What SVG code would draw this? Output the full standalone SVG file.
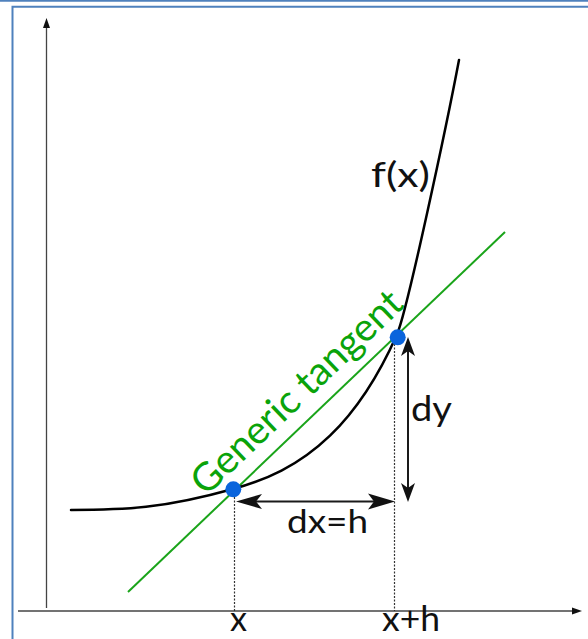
<svg xmlns="http://www.w3.org/2000/svg" width="588" height="639" viewBox="0 0 588 639">
<style>
.lbl{font-family:Lato,"Open Sans","Liberation Sans",sans-serif;fill:#111;}
.axis{stroke:#444;stroke-width:1.3;fill:none;}
.dot{stroke:#333;stroke-width:1.2;stroke-dasharray:2 1.5;fill:none;}
.dim{stroke:#1a1a1a;stroke-width:2;fill:none;}
.head{fill:#111;stroke:none;}
.pt{fill:#0a64dc;}
</style>
<rect x="0" y="0" width="588" height="639" fill="#fff"/>
<g id="frame">
<line x1="0" y1="0.8" x2="588" y2="0.8" stroke="#4f81bd" stroke-width="1.8"/>
<path d="M12.5 640 V6.7 H590" fill="none" stroke="#4f81bd" stroke-width="2"/>
</g>
<g id="axes">
<line class="axis" x1="46.5" y1="608" x2="46.5" y2="26"/>
<polygon class="head" points="46.5,18 43,28 50,28"/>
<line class="axis" x1="18" y1="611" x2="574" y2="611"/>
<polygon class="head" points="582,611 572,607.5 572,614.5"/>
</g>
<g id="connectors">
<line class="dot" x1="234.5" y1="497" x2="234.5" y2="611"/>
<line class="dot" x1="394.5" y1="344" x2="394.5" y2="611"/>
<line class="dim" x1="250" y1="501.5" x2="380" y2="501.5"/>
<polygon class="head" points="236,501.5 262,494 256,501.5 262,509"/>
<polygon class="head" points="395,501.5 368,493.5 374,501.5 368,509.5"/>
<line class="dim" x1="408" y1="350" x2="408" y2="489"/>
<polygon class="head" points="408,337 401,356 408,351 415,356"/>
<polygon class="head" points="408,502 401,483 408,488 415,483"/>
</g>
<g id="tangent">
<line x1="128" y1="592" x2="505" y2="232" stroke="#1aa41a" stroke-width="2"/>
<text transform="translate(206,497) rotate(-43.7)" x="0" y="0" font-family="Lato,'Open Sans','Liberation Sans',sans-serif" font-size="39" fill="#0aa30a" textLength="276" lengthAdjust="spacingAndGlyphs">Generic tangent</text>
</g>
<g id="curve">
<path d="M71 510 C125 510 163 508.6 233 489 C265.3 480 297.7 466.6 330 435.6 C352.3 414.2 374.7 384.5 397 334.4 C407 311.6 447 123.6 459 60" fill="none" stroke="#000" stroke-width="2.5" stroke-linecap="round"/>
<text class="lbl" x="371" y="187" font-size="34" textLength="59" lengthAdjust="spacingAndGlyphs">f(x)</text>
</g>
<g id="point-x">
<circle class="pt" cx="233.3" cy="489.3" r="8"/>
</g>
<g id="point-xh">
<circle class="pt" cx="397.7" cy="337.3" r="8"/>
</g>
<g id="labels">
<text class="lbl" x="411" y="421" font-size="34" textLength="41" lengthAdjust="spacingAndGlyphs">dy</text>
<text class="lbl" x="287" y="533" font-size="33" textLength="81" lengthAdjust="spacingAndGlyphs">dx=h</text>
<text class="lbl" x="230" y="631" font-size="34" textLength="17" lengthAdjust="spacingAndGlyphs">x</text>
<text class="lbl" x="382" y="631" font-size="34" textLength="58" lengthAdjust="spacingAndGlyphs">x+h</text>
</g>
</svg>
